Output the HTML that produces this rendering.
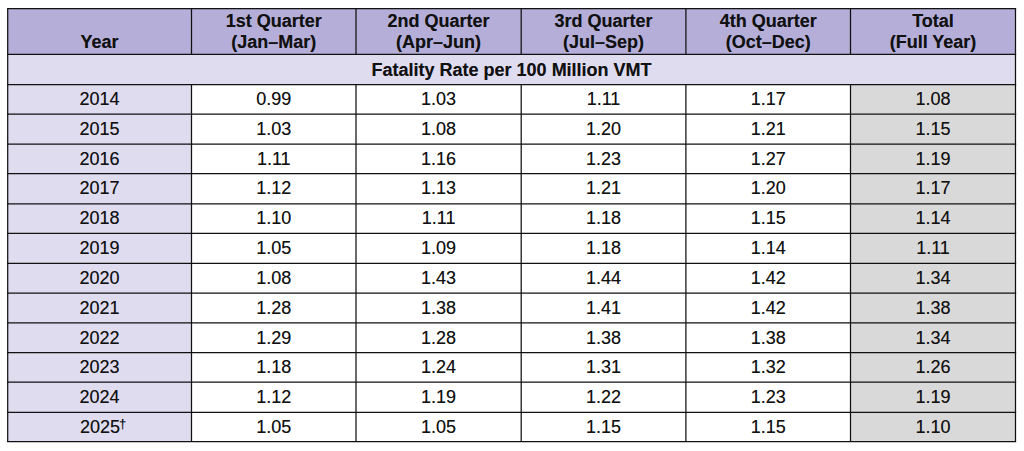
<!DOCTYPE html>
<html><head><meta charset="utf-8"><style>
html,body{margin:0;padding:0;background:#fff;}
body{width:1024px;height:451px;position:relative;overflow:hidden;font-family:"Liberation Sans",sans-serif;color:#111;}
svg{position:absolute;left:0;top:0;}
.t{position:absolute;text-align:center;font-size:18px;line-height:20.7px;white-space:nowrap;text-shadow:0 0 0.6px rgba(0,0,0,0.45);}
.dg{font-size:13px;position:relative;top:-4.5px;margin-left:-1px;}
</style></head><body>
<svg width="1024" height="451" viewBox="0 0 1024 451">
<rect x="7.7" y="8.6" width="1007.8" height="45.8" fill="#b4aed8"/>
<rect x="7.7" y="54.4" width="1007.8" height="30.1" fill="#dfdcf0"/>
<rect x="7.7" y="84.5" width="183.8" height="357.1" fill="#dfdcf0"/>
<rect x="850.5" y="84.5" width="165.0" height="357.1" fill="#d9d9d9"/>
<g stroke="#111" stroke-width="1.25">
<line x1="7.075" y1="8.6" x2="1016.125" y2="8.6"/>
<line x1="7.075" y1="54.4" x2="1016.125" y2="54.4"/>
<line x1="7.075" y1="84.5" x2="1016.125" y2="84.5"/>
<line x1="7.075" y1="114.2" x2="1016.125" y2="114.2"/>
<line x1="7.075" y1="144.1" x2="1016.125" y2="144.1"/>
<line x1="7.075" y1="173.7" x2="1016.125" y2="173.7"/>
<line x1="7.075" y1="203.8" x2="1016.125" y2="203.8"/>
<line x1="7.075" y1="233.4" x2="1016.125" y2="233.4"/>
<line x1="7.075" y1="263.4" x2="1016.125" y2="263.4"/>
<line x1="7.075" y1="293.0" x2="1016.125" y2="293.0"/>
<line x1="7.075" y1="322.9" x2="1016.125" y2="322.9"/>
<line x1="7.075" y1="352.6" x2="1016.125" y2="352.6"/>
<line x1="7.075" y1="382.0" x2="1016.125" y2="382.0"/>
<line x1="7.075" y1="412.3" x2="1016.125" y2="412.3"/>
<line x1="7.075" y1="441.6" x2="1016.125" y2="441.6"/>
<line x1="7.7" y1="8.6" x2="7.7" y2="441.6"/>
<line x1="191.5" y1="8.6" x2="191.5" y2="54.4"/>
<line x1="191.5" y1="84.5" x2="191.5" y2="441.6"/>
<line x1="356.0" y1="8.6" x2="356.0" y2="54.4"/>
<line x1="356.0" y1="84.5" x2="356.0" y2="441.6"/>
<line x1="521.2" y1="8.6" x2="521.2" y2="54.4"/>
<line x1="521.2" y1="84.5" x2="521.2" y2="441.6"/>
<line x1="685.9" y1="8.6" x2="685.9" y2="54.4"/>
<line x1="685.9" y1="84.5" x2="685.9" y2="441.6"/>
<line x1="850.5" y1="8.6" x2="850.5" y2="54.4"/>
<line x1="850.5" y1="84.5" x2="850.5" y2="441.6"/>
<line x1="1015.5" y1="8.6" x2="1015.5" y2="441.6"/>
</g></svg>
<div class="t" style="left:7.70px;width:183.80px;top:32.41px;font-weight:bold;">Year</div>
<div class="t" style="left:191.50px;width:164.50px;top:11.21px;font-weight:bold;">1st Quarter</div>
<div class="t" style="left:191.50px;width:164.50px;top:32.41px;font-weight:bold;">(Jan–Mar)</div>
<div class="t" style="left:356.00px;width:165.20px;top:11.21px;font-weight:bold;">2nd Quarter</div>
<div class="t" style="left:356.00px;width:165.20px;top:32.41px;font-weight:bold;">(Apr–Jun)</div>
<div class="t" style="left:521.20px;width:164.70px;top:11.21px;font-weight:bold;">3rd Quarter</div>
<div class="t" style="left:521.20px;width:164.70px;top:32.41px;font-weight:bold;">(Jul–Sep)</div>
<div class="t" style="left:685.90px;width:164.60px;top:11.21px;font-weight:bold;">4th Quarter</div>
<div class="t" style="left:685.90px;width:164.60px;top:32.41px;font-weight:bold;">(Oct–Dec)</div>
<div class="t" style="left:850.50px;width:165.00px;top:11.21px;font-weight:bold;">Total</div>
<div class="t" style="left:850.50px;width:165.00px;top:32.41px;font-weight:bold;">(Full Year)</div>
<div class="t" style="left:7.70px;width:1007.80px;top:60.01px;font-weight:bold;">Fatality Rate per 100 Million VMT</div>
<div class="t" style="left:7.70px;width:183.80px;top:88.61px;">2014</div>
<div class="t" style="left:191.50px;width:164.50px;top:88.61px;">0.99</div>
<div class="t" style="left:356.00px;width:165.20px;top:88.61px;">1.03</div>
<div class="t" style="left:521.20px;width:164.70px;top:88.61px;">1.11</div>
<div class="t" style="left:685.90px;width:164.60px;top:88.61px;">1.17</div>
<div class="t" style="left:850.50px;width:165.00px;top:88.61px;">1.08</div>
<div class="t" style="left:7.70px;width:183.80px;top:118.61px;">2015</div>
<div class="t" style="left:191.50px;width:164.50px;top:118.61px;">1.03</div>
<div class="t" style="left:356.00px;width:165.20px;top:118.61px;">1.08</div>
<div class="t" style="left:521.20px;width:164.70px;top:118.61px;">1.20</div>
<div class="t" style="left:685.90px;width:164.60px;top:118.61px;">1.21</div>
<div class="t" style="left:850.50px;width:165.00px;top:118.61px;">1.15</div>
<div class="t" style="left:7.70px;width:183.80px;top:148.61px;">2016</div>
<div class="t" style="left:191.50px;width:164.50px;top:148.61px;">1.11</div>
<div class="t" style="left:356.00px;width:165.20px;top:148.61px;">1.16</div>
<div class="t" style="left:521.20px;width:164.70px;top:148.61px;">1.23</div>
<div class="t" style="left:685.90px;width:164.60px;top:148.61px;">1.27</div>
<div class="t" style="left:850.50px;width:165.00px;top:148.61px;">1.19</div>
<div class="t" style="left:7.70px;width:183.80px;top:177.61px;">2017</div>
<div class="t" style="left:191.50px;width:164.50px;top:177.61px;">1.12</div>
<div class="t" style="left:356.00px;width:165.20px;top:177.61px;">1.13</div>
<div class="t" style="left:521.20px;width:164.70px;top:177.61px;">1.21</div>
<div class="t" style="left:685.90px;width:164.60px;top:177.61px;">1.20</div>
<div class="t" style="left:850.50px;width:165.00px;top:177.61px;">1.17</div>
<div class="t" style="left:7.70px;width:183.80px;top:207.61px;">2018</div>
<div class="t" style="left:191.50px;width:164.50px;top:207.61px;">1.10</div>
<div class="t" style="left:356.00px;width:165.20px;top:207.61px;">1.11</div>
<div class="t" style="left:521.20px;width:164.70px;top:207.61px;">1.18</div>
<div class="t" style="left:685.90px;width:164.60px;top:207.61px;">1.15</div>
<div class="t" style="left:850.50px;width:165.00px;top:207.61px;">1.14</div>
<div class="t" style="left:7.70px;width:183.80px;top:237.61px;">2019</div>
<div class="t" style="left:191.50px;width:164.50px;top:237.61px;">1.05</div>
<div class="t" style="left:356.00px;width:165.20px;top:237.61px;">1.09</div>
<div class="t" style="left:521.20px;width:164.70px;top:237.61px;">1.18</div>
<div class="t" style="left:685.90px;width:164.60px;top:237.61px;">1.14</div>
<div class="t" style="left:850.50px;width:165.00px;top:237.61px;">1.11</div>
<div class="t" style="left:7.70px;width:183.80px;top:267.61px;">2020</div>
<div class="t" style="left:191.50px;width:164.50px;top:267.61px;">1.08</div>
<div class="t" style="left:356.00px;width:165.20px;top:267.61px;">1.43</div>
<div class="t" style="left:521.20px;width:164.70px;top:267.61px;">1.44</div>
<div class="t" style="left:685.90px;width:164.60px;top:267.61px;">1.42</div>
<div class="t" style="left:850.50px;width:165.00px;top:267.61px;">1.34</div>
<div class="t" style="left:7.70px;width:183.80px;top:297.61px;">2021</div>
<div class="t" style="left:191.50px;width:164.50px;top:297.61px;">1.28</div>
<div class="t" style="left:356.00px;width:165.20px;top:297.61px;">1.38</div>
<div class="t" style="left:521.20px;width:164.70px;top:297.61px;">1.41</div>
<div class="t" style="left:685.90px;width:164.60px;top:297.61px;">1.42</div>
<div class="t" style="left:850.50px;width:165.00px;top:297.61px;">1.38</div>
<div class="t" style="left:7.70px;width:183.80px;top:327.61px;">2022</div>
<div class="t" style="left:191.50px;width:164.50px;top:327.61px;">1.29</div>
<div class="t" style="left:356.00px;width:165.20px;top:327.61px;">1.28</div>
<div class="t" style="left:521.20px;width:164.70px;top:327.61px;">1.38</div>
<div class="t" style="left:685.90px;width:164.60px;top:327.61px;">1.38</div>
<div class="t" style="left:850.50px;width:165.00px;top:327.61px;">1.34</div>
<div class="t" style="left:7.70px;width:183.80px;top:356.61px;">2023</div>
<div class="t" style="left:191.50px;width:164.50px;top:356.61px;">1.18</div>
<div class="t" style="left:356.00px;width:165.20px;top:356.61px;">1.24</div>
<div class="t" style="left:521.20px;width:164.70px;top:356.61px;">1.31</div>
<div class="t" style="left:685.90px;width:164.60px;top:356.61px;">1.32</div>
<div class="t" style="left:850.50px;width:165.00px;top:356.61px;">1.26</div>
<div class="t" style="left:7.70px;width:183.80px;top:386.61px;">2024</div>
<div class="t" style="left:191.50px;width:164.50px;top:386.61px;">1.12</div>
<div class="t" style="left:356.00px;width:165.20px;top:386.61px;">1.19</div>
<div class="t" style="left:521.20px;width:164.70px;top:386.61px;">1.22</div>
<div class="t" style="left:685.90px;width:164.60px;top:386.61px;">1.23</div>
<div class="t" style="left:850.50px;width:165.00px;top:386.61px;">1.19</div>
<div class="t" style="left:80.00px;width:60.00px;top:416.61px;text-align:left;">2025<span class="dg">†</span></div>
<div class="t" style="left:191.50px;width:164.50px;top:416.61px;">1.05</div>
<div class="t" style="left:356.00px;width:165.20px;top:416.61px;">1.05</div>
<div class="t" style="left:521.20px;width:164.70px;top:416.61px;">1.15</div>
<div class="t" style="left:685.90px;width:164.60px;top:416.61px;">1.15</div>
<div class="t" style="left:850.50px;width:165.00px;top:416.61px;">1.10</div>
</body></html>
